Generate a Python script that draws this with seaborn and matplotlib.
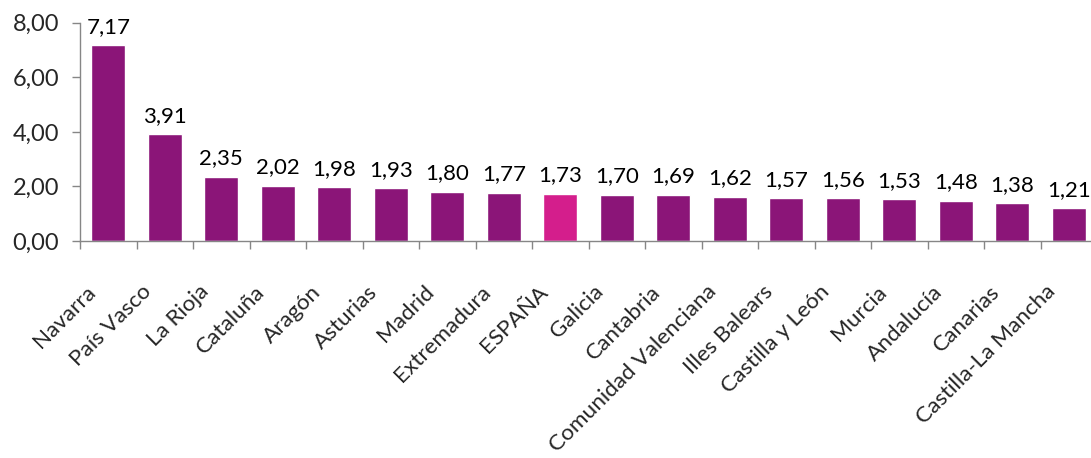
import matplotlib
matplotlib.use("Agg")
import matplotlib.pyplot as plt
import matplotlib.transforms as mtransforms
import seaborn as sns
import pandas as pd
from matplotlib.ticker import FuncFormatter, FixedLocator

categories = ["Navarra", "País Vasco", "La Rioja", "Cataluña", "Aragón", "Asturias",
              "Madrid", "Extremadura", "ESPAÑA", "Galicia", "Cantabria",
              "Comunidad Valenciana", "Illes Balears", "Castilla y León", "Murcia",
              "Andalucía", "Canarias", "Castilla-La Mancha"]
values = [7.17, 3.91, 2.35, 2.02, 1.98, 1.93, 1.80, 1.77, 1.73, 1.70, 1.69,
          1.62, 1.57, 1.56, 1.53, 1.48, 1.38, 1.21]
highlight = "ESPAÑA"
y_ticks = [0, 2, 4, 6, 8]

MAIN = "#8B1578"
HIGH = "#D41E8C"
GRAY = "#868686"
FS = 17

df = pd.DataFrame({"region": categories, "value": values})
palette = {c: (HIGH if c == highlight else MAIN) for c in categories}

sns.set_style("white")
plt.rcParams["font.family"] = ["Lato", "DejaVu Sans"]

fig = plt.figure(figsize=(10.91, 4.58), dpi=100)
ax = fig.add_axes([80 / 1091, 217 / 458, 1017 / 1091, 218.3 / 458])

sns.barplot(data=df, x="region", y="value", hue="region", palette=palette,
            legend=False, width=0.6, saturation=1, ax=ax, order=categories)

for cont in ax.containers:
    labs = [f"{b.get_height():.2f}".replace(".", ",") if b.get_height() > 0 else "" for b in cont]
    ax.bar_label(cont, labels=labs, padding=6, fontsize=16, color="black")

ax.set_ylim(0, 8)
ax.set_xlim(-0.5, len(categories) - 0.5)
ax.set_yticks(y_ticks)
ax.yaxis.set_major_formatter(FuncFormatter(lambda v, p: f"{v:.2f}".replace(".", ",")))
ax.tick_params(axis="y", labelsize=FS, length=6, color=GRAY, direction="out", pad=9, width=1, left=True)

ax.set_xticks(range(len(categories)))
ax.set_xticklabels(categories, rotation=45, ha="right", va="top", fontsize=16.2)
ax.tick_params(axis="x", length=0, pad=22)
ax.xaxis.set_minor_locator(FixedLocator([i + 0.5 for i in range(-1, len(categories))]))
ax.tick_params(axis="x", which="minor", length=6, color=GRAY, direction="out", width=1, bottom=True)

ax.set_xlabel("")
ax.set_ylabel("")
for s in ["top", "right"]:
    ax.spines[s].set_visible(False)
for s in ["left", "bottom"]:
    ax.spines[s].set_color(GRAY)
    ax.spines[s].set_linewidth(1)

offset = mtransforms.ScaledTranslation(-9 / 100, -10 / 100, fig.dpi_scale_trans)
for lbl in ax.get_xticklabels():
    lbl.set_transform(lbl.get_transform() + offset)

fig.savefig("out.png", dpi=100)
